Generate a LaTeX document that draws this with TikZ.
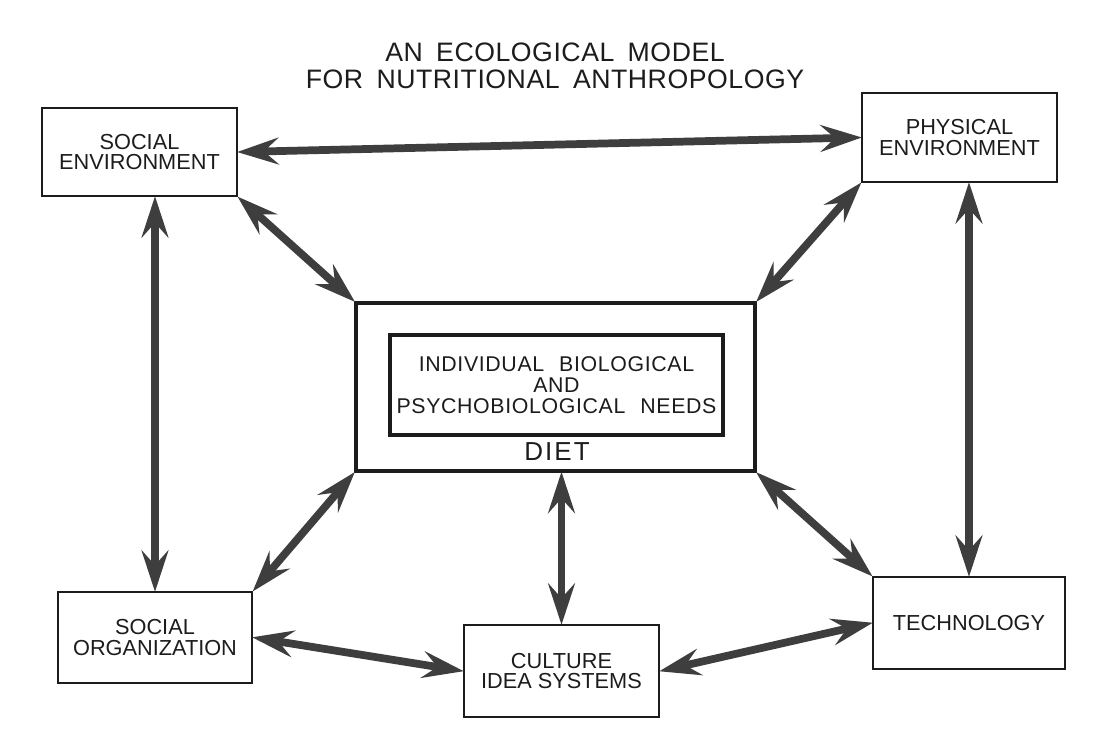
\documentclass[tikz,border=0pt]{standalone}
\usepackage{fontspec}
\setmainfont{Liberation Sans}
\usetikzlibrary{arrows.meta}
\definecolor{ink}{HTML}{1C1C1C}
\definecolor{arrowgray}{HTML}{3E3E3E}
\tikzset{
  box/.style={draw=ink, line width=2.2pt, align=center, text=ink, inner sep=0pt,
    font=\fontsize{16.3}{15.5}\selectfont},
  biarrow/.style={draw=arrowgray, line width=5.8pt,
    {Stealth[length=31pt,width=20pt,inset=11pt]}-{Stealth[length=31pt,width=20pt,inset=11pt]},
    shorten <=-1pt, shorten >=-1pt},
  titletext/.style={align=center, text=ink, font={\fontsize{20}{20}\selectfont\addfontfeature{LetterSpace=2}}}
}
\begin{document}
\begin{tikzpicture}[x=0.75pt,y=-0.75pt]
\useasboundingbox (0,0) rectangle (1108,756);
\fill[white] (0,0) rectangle (1108,756);

\node[titletext] (title) at (555,66) {\spaceskip=0.5em AN ECOLOGICAL MODEL\\ \spaceskip=0.5em FOR NUTRITIONAL ANTHROPOLOGY};

\node[box, minimum width=146.25pt, minimum height=66pt] (se) at (139.5,152) {SOCIAL\\ENVIRONMENT};
\node[box, minimum width=146.25pt, minimum height=66.75pt] (pe) at (959.5,137.5) {PHYSICAL\\ENVIRONMENT};
\node[draw=ink, line width=3pt, minimum width=299.25pt, minimum height=126pt, inner sep=0pt] (diet) at (555.5,387) {};
\node[draw=ink, line width=2.4pt, minimum width=249.75pt, minimum height=75pt, inner sep=0pt, align=center, text=ink,
  font={\fontsize{16}{16}\selectfont\addfontfeature{LetterSpace=3}}] (needs) at (556.5,385)
  {\spaceskip=0.7em INDIVIDUAL BIOLOGICAL\\AND\\ \spaceskip=0.7em PSYCHOBIOLOGICAL NEEDS};
\node[text=ink, font={\fontsize{19.5}{20}\selectfont\addfontfeature{LetterSpace=8}}] (dietlabel) at (557,452) {DIET};
\node[box, minimum width=145.5pt, minimum height=68.25pt] (so) at (155,637.5) {SOCIAL\\ORGANIZATION};
\node[box, minimum width=146.25pt, minimum height=69pt] (cult) at (561.5,671) {CULTURE\\IDEA SYSTEMS};
\node[box, minimum width=144pt, minimum height=69pt] (tech) at (969,623) {TECHNOLOGY};

\draw[biarrow] (se.east) -- (pe.west);
\draw[biarrow] (se.south east) -- (diet.north west);
\draw[biarrow] (pe.south west) -- (diet.north east);
\draw[biarrow] (diet.south west) -- (so.north east);
\draw[biarrow] (diet.south east) -- (tech.north west);
\draw[biarrow] (diet.south -| cult.north) -- (cult.north);
\draw[biarrow] (so.north |- se.south) -- (so.north);
\draw[biarrow] (tech.north |- pe.south) -- (tech.north);
\draw[biarrow] (so.east) -- (cult.west);
\draw[biarrow] (cult.east) -- (tech.west);
\end{tikzpicture}
\end{document}
